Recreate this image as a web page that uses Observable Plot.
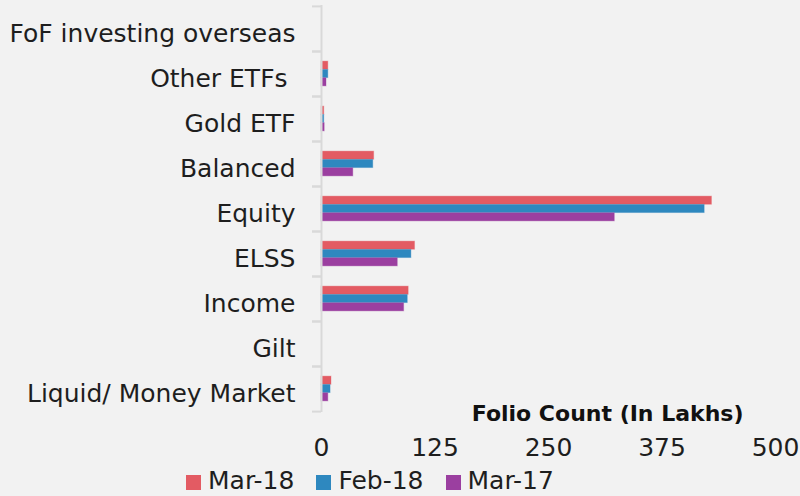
<!DOCTYPE html>
<html>
<head>
<meta charset="utf-8">
<script src="https://cdn.jsdelivr.net/npm/d3@7"></script>
<script src="https://cdn.jsdelivr.net/npm/@observablehq/plot@0.6"></script>
<style>
  html, body { margin: 0; padding: 0; background: #F2F2F2; }
  body { width: 800px; height: 496px; overflow: hidden; font-family: "DejaVu Sans", sans-serif; }
  #chart svg { display: block; background: #F2F2F2; }
  .legend { position: relative; height: 34px; display: flex; align-items: center; padding-left: 186px; padding-top: 4px; box-sizing: border-box; font-size: 25px; color: #1e1e1e; line-height: 30px; }
  .legend .item { display: flex; align-items: center; margin-right: 22px; }
  .legend .sw { width: 15px; height: 15px; margin-right: 7px; margin-top: 2px; }
</style>
</head>
<body>
<div id="chart"></div>
<div class="legend" id="legend"></div>
<script>
const categories = ["FoF investing overseas", "Other ETFs ", "Gold ETF", "Balanced", "Equity", "ELSS", "Income", "Gilt", "Liquid/ Money Market"];
const seriesNames = ["Mar-18", "Feb-18", "Mar-17"];
const mar18 = [0, 7.5, 3, 58, 430, 103, 96, 0, 11];
const feb18 = [0, 7.5, 3, 57, 422, 99, 95, 0, 10];
const mar17 = [0, 5.5, 3.5, 35, 323, 84, 91, 0, 7.5];
const colors = ["#E35B63", "#2E88BF", "#9B3FA0"];
const xTicks = [0, 125, 250, 375, 500];
const axisTitle = "Folio Count (In Lakhs)";

const seriesValues = [mar18, feb18, mar17];
const data = [];
seriesNames.forEach((s, si) => {
  categories.forEach((c, ci) => data.push({category: c, series: s, value: seriesValues[si][ci]}));
});

const W = 800, H = 462, mT = 5, mB = 50, mL = 321, mR = 25;
const step = (H - mT - mB) / categories.length;
const barH = step * 0.184;
const inset = (step - barH) / 2;

const marks = [];
seriesNames.forEach((s, si) => {
  marks.push(Plot.barX(data.filter(d => d.series === s), {
    y: "category", x: "value", fill: colors[si],
    stroke: colors[si], strokeOpacity: 0.35, strokeWidth: 1,
    insetTop: inset, insetBottom: inset, dy: (si - 1) * barH
  }));
});

const chart = Plot.plot({
  width: W, height: H,
  marginTop: mT, marginBottom: mB, marginLeft: mL, marginRight: mR,
  style: {background: "#F2F2F2", fontFamily: "DejaVu Sans, sans-serif", color: "#1e1e1e"},
  x: {domain: [0, 500]},
  y: {domain: categories, padding: 0},
  marks: [
    ...marks,
    Plot.ruleX([0], {stroke: "#D9D9D9", strokeWidth: 2}),
    Plot.axisY({tickSize: 9, tickFormat: () => "", dy: -step / 2, stroke: "#D9D9D9", strokeWidth: 2, label: null}),
    Plot.axisY({tickSize: 9, tickFormat: () => "", dy: step / 2, stroke: "#D9D9D9", strokeWidth: 2, label: null}),
    Plot.axisY({tickSize: 0, tickPadding: 26, fontSize: 25, dy: 5, label: null, fill: "#1e1e1e"}),
    Plot.axisX({ticks: xTicks, tickSize: 0, tickPadding: 26, fontSize: 25, label: null, fill: "#1e1e1e"}),
    Plot.text([axisTitle], {frameAnchor: "bottom-right", textAnchor: "end", lineAnchor: "middle", dx: -32, dy: 1, fontSize: 22, fontWeight: "bold", fill: "#111"})
  ]
});
document.getElementById("chart").appendChild(chart);

const legend = document.getElementById("legend");
seriesNames.forEach((s, i) => {
  const item = document.createElement("div");
  item.className = "item";
  const sw = document.createElement("span");
  sw.className = "sw";
  sw.style.background = colors[i];
  const t = document.createElement("span");
  t.textContent = s;
  item.appendChild(sw); item.appendChild(t);
  legend.appendChild(item);
});
</script>
</body>
</html>
